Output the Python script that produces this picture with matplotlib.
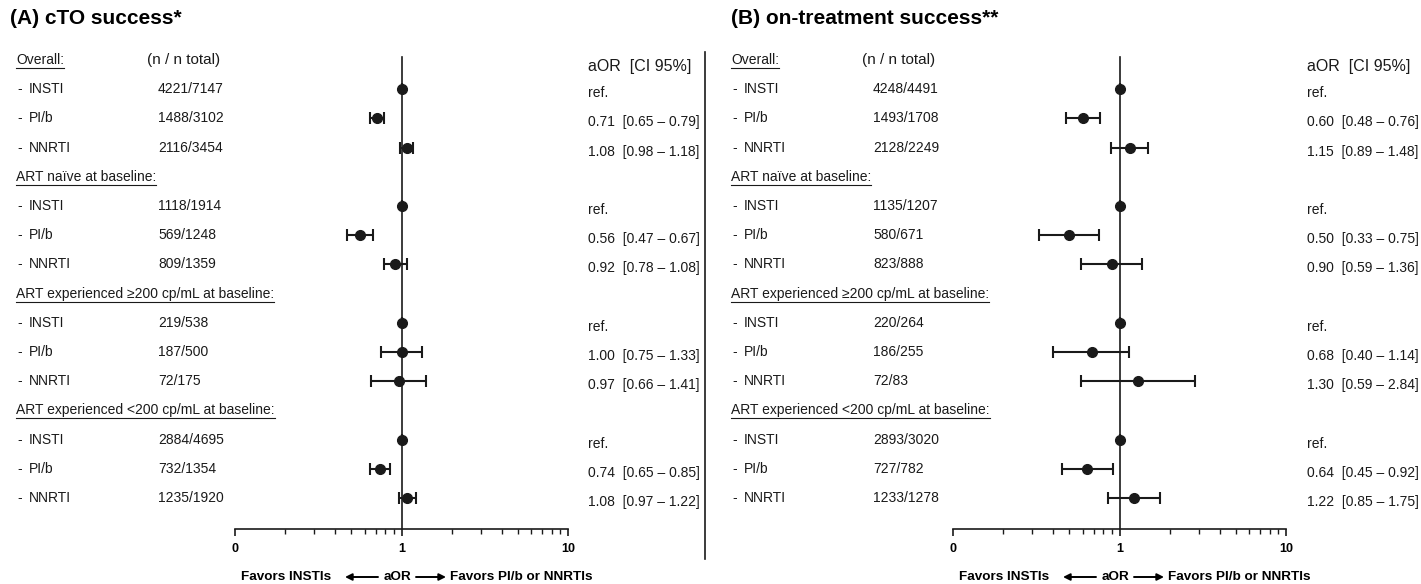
import numpy as np
import matplotlib.pyplot as plt
from matplotlib.ticker import FixedLocator, NullFormatter

plt.rcParams['font.family'] = ['Liberation Sans', 'DejaVu Sans']

nan = np.nan

groups = ["Overall:", "ART naïve at baseline:",
          "ART experienced ≥200 cp/mL at baseline:",
          "ART experienced <200 cp/mL at baseline:"]
drugs = ["INSTI", "PI/b", "NNRTI"]

# (A) cTO success
cto_n = ["4221/7147", "1488/3102", "2116/3454",
         "1118/1914", "569/1248", "809/1359",
         "219/538", "187/500", "72/175",
         "2884/4695", "732/1354", "1235/1920"]
cto_or = [1.00, 0.71, 1.08, 1.00, 0.56, 0.92, 1.00, 1.00, 0.97, 1.00, 0.74, 1.08]
cto_lo = [nan, 0.65, 0.98, nan, 0.47, 0.78, nan, 0.75, 0.66, nan, 0.65, 0.97]
cto_hi = [nan, 0.79, 1.18, nan, 0.67, 1.08, nan, 1.33, 1.41, nan, 0.85, 1.22]

# (B) on-treatment success
ot_n = ["4248/4491", "1493/1708", "2128/2249",
        "1135/1207", "580/671", "823/888",
        "220/264", "186/255", "72/83",
        "2893/3020", "727/782", "1233/1278"]
ot_or = [1.00, 0.60, 1.15, 1.00, 0.50, 0.90, 1.00, 0.68, 1.30, 1.00, 0.64, 1.22]
ot_lo = [nan, 0.48, 0.89, nan, 0.33, 0.59, nan, 0.40, 0.59, nan, 0.45, 0.85]
ot_hi = [nan, 0.76, 1.48, nan, 0.75, 1.36, nan, 1.14, 2.84, nan, 0.92, 1.75]

panels = [
    dict(title="(A) cTO success*", n=cto_n, aor=cto_or, lo=cto_lo, hi=cto_hi,
         title_x=10, tx=0, ax0=235, cx=588),
    dict(title="(B) on-treatment success**", n=ot_n, aor=ot_or, lo=ot_lo, hi=ot_hi,
         title_x=731, tx=715, ax0=953, cx=1307),
]

W, H = 1421, 584
fig = plt.figure(figsize=(W / 100, H / 100), dpi=100)
bg = fig.add_axes([0, 0, 1, 1])
bg.set_xlim(0, W)
bg.set_ylim(H, 0)
bg.axis('off')

ink = '#1a1a1a'
row0, step = 60, 29.2
ax_top, ax_bot, ax_w = 50, 529, 333


def row_y(r):
    return row0 + step * r


headers = []
for p in panels:
    tx = p['tx']
    bg.text(p['title_x'], 18, p['title'], fontsize=15, fontweight='bold',
            va='center', ha='left', color='black')
    bg.text(tx + 147, 60, "(n / n total)", fontsize=11, va='center', color=ink)
    bg.text(p['cx'], 67, "aOR  [CI 95%]", fontsize=11.5, va='center', color=ink)

    # rows: header then three drugs per group
    rows_pos = []
    r = 0
    for g in groups:
        t = bg.text(tx + 16, row_y(r), g, fontsize=10, va='center', color=ink)
        headers.append(t)
        r += 1
        for d in drugs:
            bg.text(tx + 17, row_y(r), "-", fontsize=10, va='center', color=ink)
            bg.text(tx + 29, row_y(r), d, fontsize=10, va='center', color=ink)
            rows_pos.append(r)
            r += 1

    for i, rr in enumerate(rows_pos):
        bg.text(tx + 158, row_y(rr), p['n'][i], fontsize=10, va='center', color=ink)
        if np.isnan(p['lo'][i]):
            lab = "ref."
        else:
            lab = f"{p['aor'][i]:.2f}  [{p['lo'][i]:.2f} – {p['hi'][i]:.2f}]"
        bg.text(p['cx'], row_y(rr) + 4, lab, fontsize=10, va='center', color=ink)

    # forest plot axes (y in row units)
    x0 = p['ax0']
    ax = fig.add_axes([x0 / W, (H - ax_bot) / H, ax_w / W, (ax_bot - ax_top) / H])
    ax.set_xscale('log')
    ax.set_xlim(0.1, 10)
    ax.set_ylim((ax_bot - row0) / step, (ax_top - row0) / step)
    ax.patch.set_alpha(0)
    for s in ['top', 'left', 'right']:
        ax.spines[s].set_visible(False)
    ax.spines['bottom'].set_linewidth(1.2)
    ax.spines['bottom'].set_color(ink)
    ax.set_yticks([])
    ax.xaxis.set_major_locator(FixedLocator([0.1, 1, 10]))
    ax.set_xticklabels(["0", "1", "10"], fontweight='bold', fontsize=9)
    minors = [k * 0.1 for k in range(2, 10)] + list(range(2, 10))
    ax.xaxis.set_minor_locator(FixedLocator(minors))
    ax.xaxis.set_minor_formatter(NullFormatter())
    ax.tick_params(axis='x', which='major', length=5, width=1.2, color=ink, pad=5)
    ax.tick_params(axis='x', which='minor', length=3.5, width=1.0, color=ink)

    ax.plot([1, 1], [(57 - row0) / step, (ax_bot - row0) / step],
            color=ink, lw=1.2, zorder=1)

    aor = np.array(p['aor'])
    lo = np.array(p['lo'])
    hi = np.array(p['hi'])
    err = np.nan_to_num(np.vstack([aor - lo, hi - aor]))
    ax.errorbar(aor, rows_pos, xerr=err, fmt='o', color=ink, ms=7,
                elinewidth=1.5, capsize=4.5, capthick=1.5, zorder=3)

    # favours legend under the axis
    fy = 577
    bg.text(x0 + 6, fy, "Favors INSTIs", fontsize=9.7, fontweight='bold',
            va='center', ha='left', color='black')
    bg.text(x0 + 162, fy, "aOR", fontsize=9.7, fontweight='bold',
            va='center', ha='center', color='black')
    bg.text(x0 + 215, fy, "Favors PI/b or NNRTIs", fontsize=9.7, fontweight='bold',
            va='center', ha='left', color='black')
    arrow = dict(arrowstyle='-|>', color='black', lw=1.4, mutation_scale=10,
                 shrinkA=0, shrinkB=0)
    bg.annotate("", xy=(x0 + 110, fy), xytext=(x0 + 143, fy), arrowprops=arrow)
    bg.annotate("", xy=(x0 + 211, fy), xytext=(x0 + 181, fy), arrowprops=arrow)

# separator between the two panels
bg.plot([705, 705], [52, 559], color=ink, lw=1.2)

# underline the group headers
fig.canvas.draw()
inv = bg.transData.inverted()
for t in headers:
    bb = t.get_window_extent()
    (xa, ya), (xb, yb) = inv.transform([[bb.x0, bb.y0], [bb.x1, bb.y1]])
    bg.plot([xa, xb], [ya + 1, ya + 1], color=ink, lw=0.8)

fig.savefig("out.png", dpi=100)
